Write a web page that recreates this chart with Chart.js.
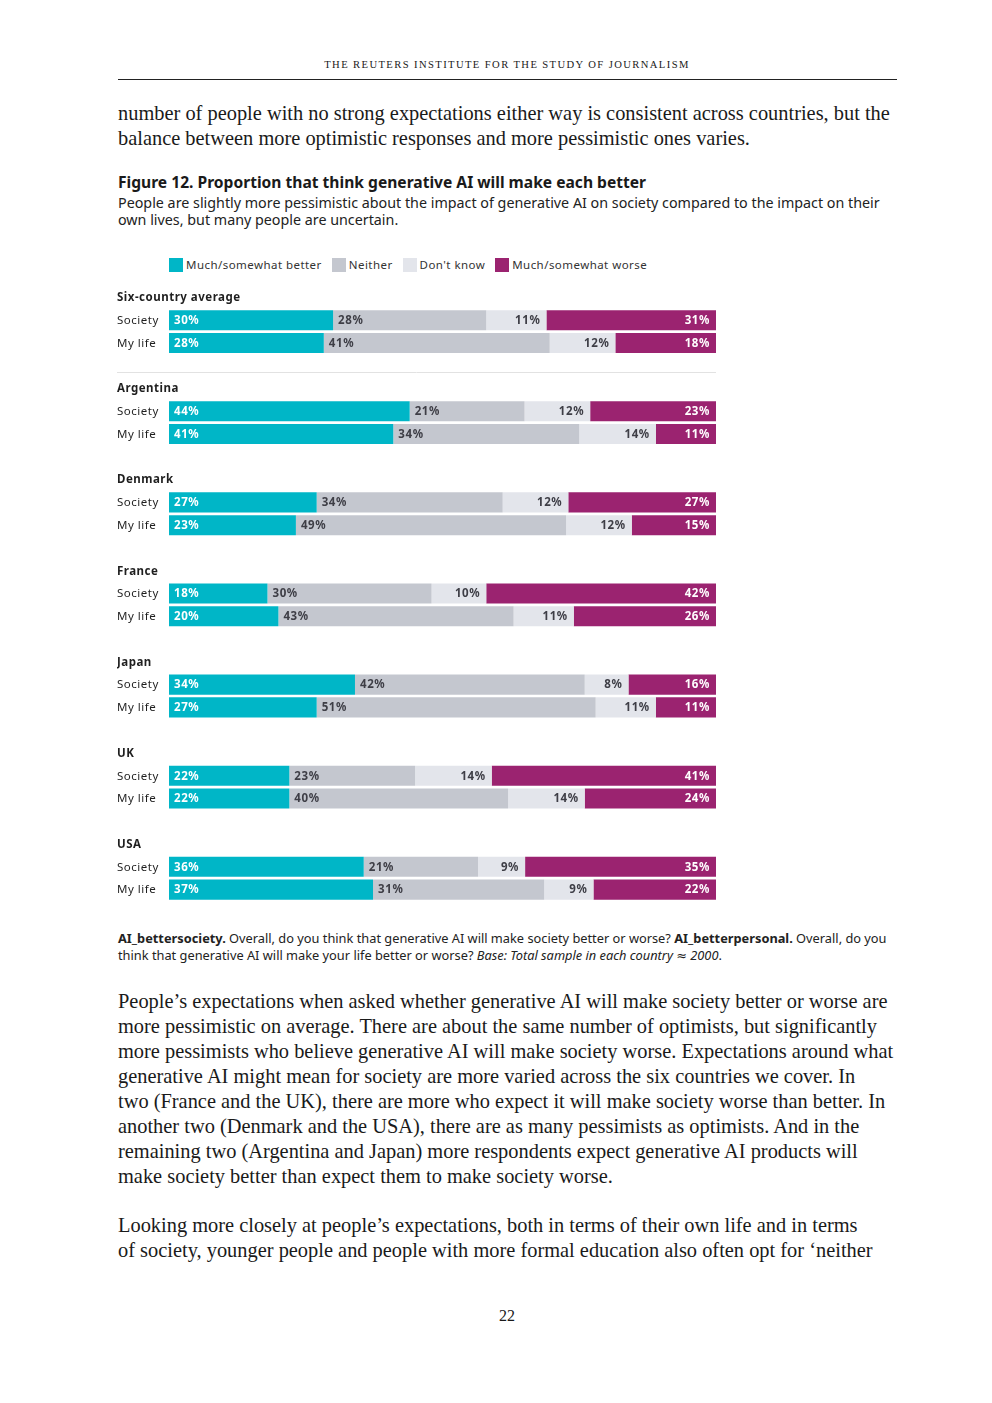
<!DOCTYPE html>
<html>
<head>
<meta charset="utf-8">
<script src="https://cdn.jsdelivr.net/npm/chart.js@4.4.1/dist/chart.umd.min.js"></script>
<style>
  html, body { margin: 0; padding: 0; background: #fff; }
  body { width: 992px; height: 1403px; position: relative; overflow: hidden; color: #1a1a1a; }
  .abs { position: absolute; white-space: nowrap; }
  .serif { font-family: "Liberation Serif", "DejaVu Serif", serif; }
  .sans { font-family: "Noto Sans", "DejaVu Sans", sans-serif; }
  .running { left: 0; width: 1014px; text-align: center; top: 58px; font-size: 10.6px; letter-spacing: 1.4px; line-height: 14px; }
  .rule { position: absolute; left: 118px; width: 779px; top: 79px; height: 1.3px; background: #222; }
  .body { left: 118px; font-size: 20.4px; line-height: 25.1px; }
  .title { left: 118px; top: 172.5px; font-size: 15.6px; font-weight: bold; line-height: 18px; }
  .sub { left: 118px; top: 194px; font-size: 14.3px; line-height: 17px; color: #222; }
  .legend { left: 169px; top: 257px; font-size: 11.5px; line-height: 16px; color: #333; letter-spacing: 0.45px; }
  .legend span.sw { display: inline-block; width: 14px; height: 14px; vertical-align: -3px; margin-right: 3px; }
  .legend span.it { margin-right: 10px; }
  .note { left: 118px; top: 929.5px; font-size: 12.8px; line-height: 17px; color: #222; }
  #chartBox { position: absolute; left: 117px; top: 285.5px; width: 599px; height: 615px; }
  .pageno { left: 0; width: 1014px; text-align: center; top: 1307px; font-size: 16px; }
</style>
</head>
<body>

<div class="abs serif running">THE REUTERS INSTITUTE FOR THE STUDY OF JOURNALISM</div>
<div class="rule"></div>

<div class="abs serif body" style="top:100.5px">number of people with no strong expectations either way is consistent across countries, but the<br>balance between more optimistic responses and more pessimistic ones varies.</div>

<div class="abs sans title">Figure 12. Proportion that think generative AI will make each better</div>
<div class="abs sans sub">People are slightly more pessimistic about the impact of generative AI on society compared to the impact on their<br>own lives, but many people are uncertain.</div>

<div class="abs sans legend">
  <span class="sw" style="background:#00b6c7"></span><span class="it">Much/somewhat better</span><span class="sw" style="background:#c4c7cf"></span><span class="it">Neither</span><span class="sw" style="background:#e3e5eb"></span><span class="it">Don't know</span><span class="sw" style="background:#9b2370"></span><span>Much/somewhat worse</span>
</div>

<div id="chartBox"><canvas id="chart"></canvas></div>

<div class="abs sans note"><b>AI_bettersociety.</b> Overall, do you think that generative AI will make society better or worse? <b>AI_betterpersonal.</b> Overall, do you<br>think that generative AI will make your life better or worse? <i>Base: Total sample in each country ≈ 2000</i>.</div>

<div class="abs serif body" style="top:988.5px">People’s expectations when asked whether generative AI will make society better or worse are<br>more pessimistic on average. There are about the same number of optimists, but significantly<br>more pessimists who believe generative AI will make society worse. Expectations around what<br>generative AI might mean for society are more varied across the six countries we cover. In<br>two (France and the UK), there are more who expect it will make society worse than better. In<br>another two (Denmark and the USA), there are as many pessimists as optimists. And in the<br>remaining two (Argentina and Japan) more respondents expect generative AI products will<br>make society better than expect them to make society worse.</div>

<div class="abs serif body" style="top:1212.5px">Looking more closely at people’s expectations, both in terms of their own life and in terms<br>of society, younger people and people with more formal education also often opt for ‘neither</div>

<div class="abs serif pageno">22</div>

<script>
'use strict';

// groups and the two questions shown for each
var groups = ['Six-country average', 'Argentina', 'Denmark', 'France', 'Japan', 'UK', 'USA'];
var rowNames = ['Society', 'My life'];

// shares in %, ordered Society, My life for each group
var better   = [30, 28.3, 44, 41, 27, 23.2, 18, 20, 34, 27, 22, 22, 35.6, 37.3];
var neither  = [28, 41.3, 21, 34, 34, 49.4, 30, 43, 42, 51, 23, 40, 20.9, 31.3];
var dontKnow = [11, 12.0, 12, 14, 12, 12.0, 10, 11,  8, 11, 14, 14,  8.6,  9.0];
var worse    = [31, 18.4, 23, 11, 27, 15.4, 42, 26, 16, 11, 41, 24, 34.9, 22.4];

var seriesNames = ['Much/somewhat better', 'Neither', "Don't know", 'Much/somewhat worse'];
var seriesColors = ['#00b6c7', '#c4c7cf', '#e3e5eb', '#9b2370'];
var labelColors = ['#ffffff', '#3e3e46', '#3e3e46', '#ffffff'];

var FONT = '"Noto Sans", "DejaVu Sans", sans-serif';

// build category rows: heading, Society, My life, spacer
var labels = [];
var rowKind = [];
var rowIndex = [];
groups.forEach(function(g, gi) {
  labels.push(g); rowKind.push('head'); rowIndex.push(-1);
  rowNames.forEach(function(r, ri) {
    labels.push(r); rowKind.push('row'); rowIndex.push(gi * 2 + ri);
  });
  if (gi < groups.length - 1) {
    labels.push(''); rowKind.push('gap'); rowIndex.push(-1);
  }
});

function expand(arr) {
  return rowIndex.map(function(i) { return i < 0 ? null : arr[i]; });
}

var allSeries = [better, neither, dontKnow, worse];

// row labels (group headings overhang the axis, so they are drawn here, unclipped)
var rowLabels = {
  id: 'rowLabels',
  afterDraw: function(chart) {
    var ctx = chart.ctx;
    var ys = chart.scales.y;
    ctx.save();
    ctx.textAlign = 'left';
    ctx.textBaseline = 'middle';
    ctx.fillStyle = '#1f1f1f';
    ctx.letterSpacing = '0.5px';
    labels.forEach(function(lab, i) {
      if (!lab) return;
      ctx.font = (rowKind[i] === 'head' ? 'bold ' : '') + '11.5px ' + FONT;
      ctx.fillText(lab, 0, ys.getPixelForValue(i) + 0.5);
    });

    // thin rule under the six-country average block
    var yLine = Math.round(ys.getPixelForValue(3) + 6) + 0.5;
    ctx.strokeStyle = '#e2e2e2';
    ctx.lineWidth = 1;
    ctx.beginPath();
    ctx.moveTo(0, yLine);
    ctx.lineTo(chart.chartArea.right, yLine);
    ctx.stroke();
    ctx.restore();
  }
};

var segLabels = {
  id: 'segLabels',
  afterDatasetsDraw: function(chart) {
    var ctx = chart.ctx;
    ctx.save();
    ctx.font = 'bold 11.5px ' + FONT;
    ctx.letterSpacing = '0.6px';
    ctx.textBaseline = 'middle';
    chart.data.datasets.forEach(function(ds, di) {
      var meta = chart.getDatasetMeta(di);
      meta.data.forEach(function(bar, i) {
        var v = ds.data[i];
        if (v === null || v === undefined) return;
        var txt = Math.round(v) + '%';
        var left = Math.min(bar.x, bar.base), right = Math.max(bar.x, bar.base);
        ctx.fillStyle = labelColors[di];
        if (di < 2) {
          ctx.textAlign = 'left';
          ctx.fillText(txt, left + 5, bar.y + 0.5);
        } else {
          ctx.textAlign = 'right';
          ctx.fillText(txt, right - 6, bar.y + 0.5);
        }
      });
    });
    ctx.restore();
  }
};

new Chart(document.getElementById('chart'), {
  type: 'bar',
  data: {
    labels: labels,
    datasets: allSeries.map(function(s, i) {
      return {
        label: seriesNames[i],
        data: expand(s),
        backgroundColor: seriesColors[i],
        borderWidth: 0,
        barPercentage: 0.88,
        categoryPercentage: 1,
      };
    }),
  },
  options: {
    indexAxis: 'y',
    responsive: true,
    maintainAspectRatio: false,
    animation: false,
    layout: { padding: 0 },
    plugins: { legend: { display: false }, tooltip: { enabled: false } },
    scales: {
      x: { stacked: true, display: false, min: 0, max: 100 },
      y: {
        stacked: true,
        grid: { display: false },
        border: { display: false },
        ticks: { display: false },
        afterFit: function(scale) { scale.width = 52; },
      },
    },
  },
  plugins: [segLabels, rowLabels],
});
</script>
</body>
</html>
